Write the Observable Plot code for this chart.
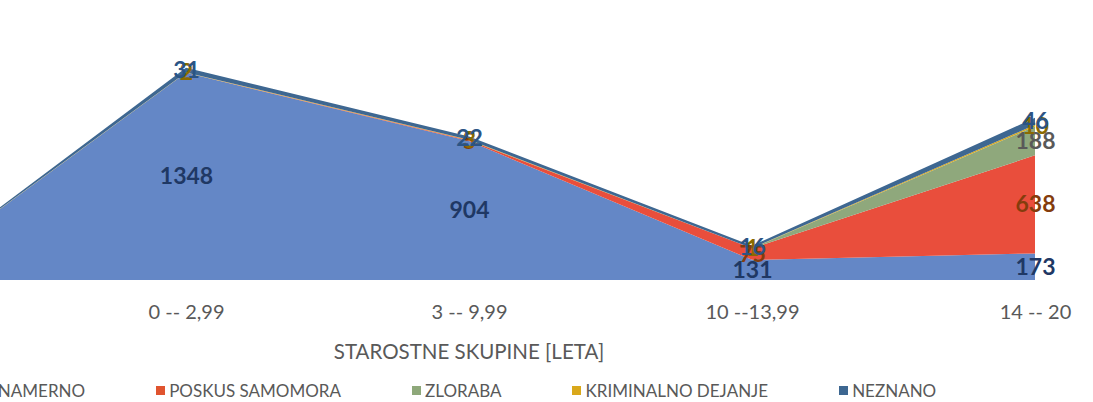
<!DOCTYPE html>
<html>
<head>
<meta charset="utf-8">
<script src="https://cdn.jsdelivr.net/npm/d3@7"></script>
<script src="https://cdn.jsdelivr.net/npm/@observablehq/plot@0.6"></script>
<style>
  html, body { margin: 0; padding: 0; background: #fff; overflow: hidden; }
  #wrap { position: relative; width: 1093px; height: 402px; overflow: hidden; font-family: Lato, "Open Sans", sans-serif; }
  #chart svg { display: block; overflow: hidden; }
  #xtitle { position: absolute; top: 339px; left: 0; width: 938px; text-align: center; font-size: 20.5px; color: #595959; }
  #legend { position: absolute; top: 380px; left: -38px; display: flex; gap: 71px; font-size: 17px; color: #595959; white-space: nowrap; }
  #legend .item { display: flex; align-items: center; gap: 4px; }
  #legend .sw { width: 9px; height: 9px; display: inline-block; }
</style>
</head>
<body>
<div id="wrap">
  <div id="chart"></div>
  <div id="xtitle"></div>
  <div id="legend"></div>
</div>
<script>
// ---- data ----
const categories = ["", "0 -- 2,99", "3 -- 9,99", "10 --13,99", "14 -- 20"];
const seriesNames = ["NENAMERNO", "POSKUS SAMOMORA", "ZLORABA", "KRIMINALNO DEJANJE", "NEZNANO"];
const nenamerno  = [0, 1348, 904, 131, 173];
const poskus     = [0, 0, 5, 75, 638];
const zloraba    = [0, 0, 0, 0, 188];
const kriminalno = [0, 2, 3, 1, 10];
const neznano    = [0, 31, 22, 16, 46];
const yTicks = [200, 400, 600, 800, 1000, 1200, 1400, 1600];
const xTitle = "STAROSTNE SKUPINE [LETA]";

// ---- styles ----
const areaColors  = ["#6487C6", "#E94E3C", "#8FA87C", "#D6A81E", "#3E6791"];
const labelColors = ["#1F3864", "#843C0C", "#595959", "#8A6A00", "#2B5485"];
const swatchColors = ["#4472C4", "#E0542F", "#8EA87A", "#D9A81B", "#3D6791"];

const seriesValues = [nenamerno, poskus, zloraba, kriminalno, neznano];
const data = [];
seriesNames.forEach((s, i) => {
  categories.forEach((c, j) => data.push({series: s, cat: c, value: seriesValues[i][j]}));
});

const W = 1093, H = 330;
const labelMarks = seriesNames.map((s, i) =>
  Plot.text(data, Plot.filter(d => d.series === s && d.value > 0,
    Plot.stackY({x: "cat", y: "value", z: "series", text: d => String(d.value),
      fill: labelColors[i], fontSize: 23, fontWeight: "bold", fontFamily: "Lato, 'Open Sans', sans-serif"})))
);

const chart = Plot.plot({
  width: W,
  height: H,
  marginTop: 34,
  marginBottom: 50,
  marginLeft: 0,
  marginRight: 58,
  style: {fontFamily: "Lato, 'Open Sans', sans-serif", fontSize: "20px", color: "#595959", background: "#fff"},
  x: {type: "point", domain: categories, range: [-98, 1035], padding: 0, label: null, tickSize: 0, tickPadding: 24},
  y: {domain: [0, 1600], axis: null},
  color: {domain: seriesNames, range: areaColors},
  marks: [
    Plot.ruleY(yTicks, {x1: categories[0], x2: categories[categories.length - 1], stroke: "#e6e6e6", strokeWidth: 1.5}),
    Plot.areaY(data, {x: "cat", y: "value", z: "series", fill: "series", fillOpacity: 1}),
    Plot.ruleY([0], {x1: categories[0], x2: categories[categories.length - 1], stroke: "#d0d0d0", strokeWidth: 1.5}),
    ...labelMarks
  ]
});
document.getElementById("chart").appendChild(chart);

document.getElementById("xtitle").textContent = xTitle;
const legend = document.getElementById("legend");
seriesNames.forEach((s, i) => {
  const it = document.createElement("div");
  it.className = "item";
  const sw = document.createElement("span");
  sw.className = "sw";
  sw.style.background = swatchColors[i];
  const tx = document.createElement("span");
  tx.textContent = s;
  it.appendChild(sw); it.appendChild(tx);
  legend.appendChild(it);
});
</script>
</body>
</html>
